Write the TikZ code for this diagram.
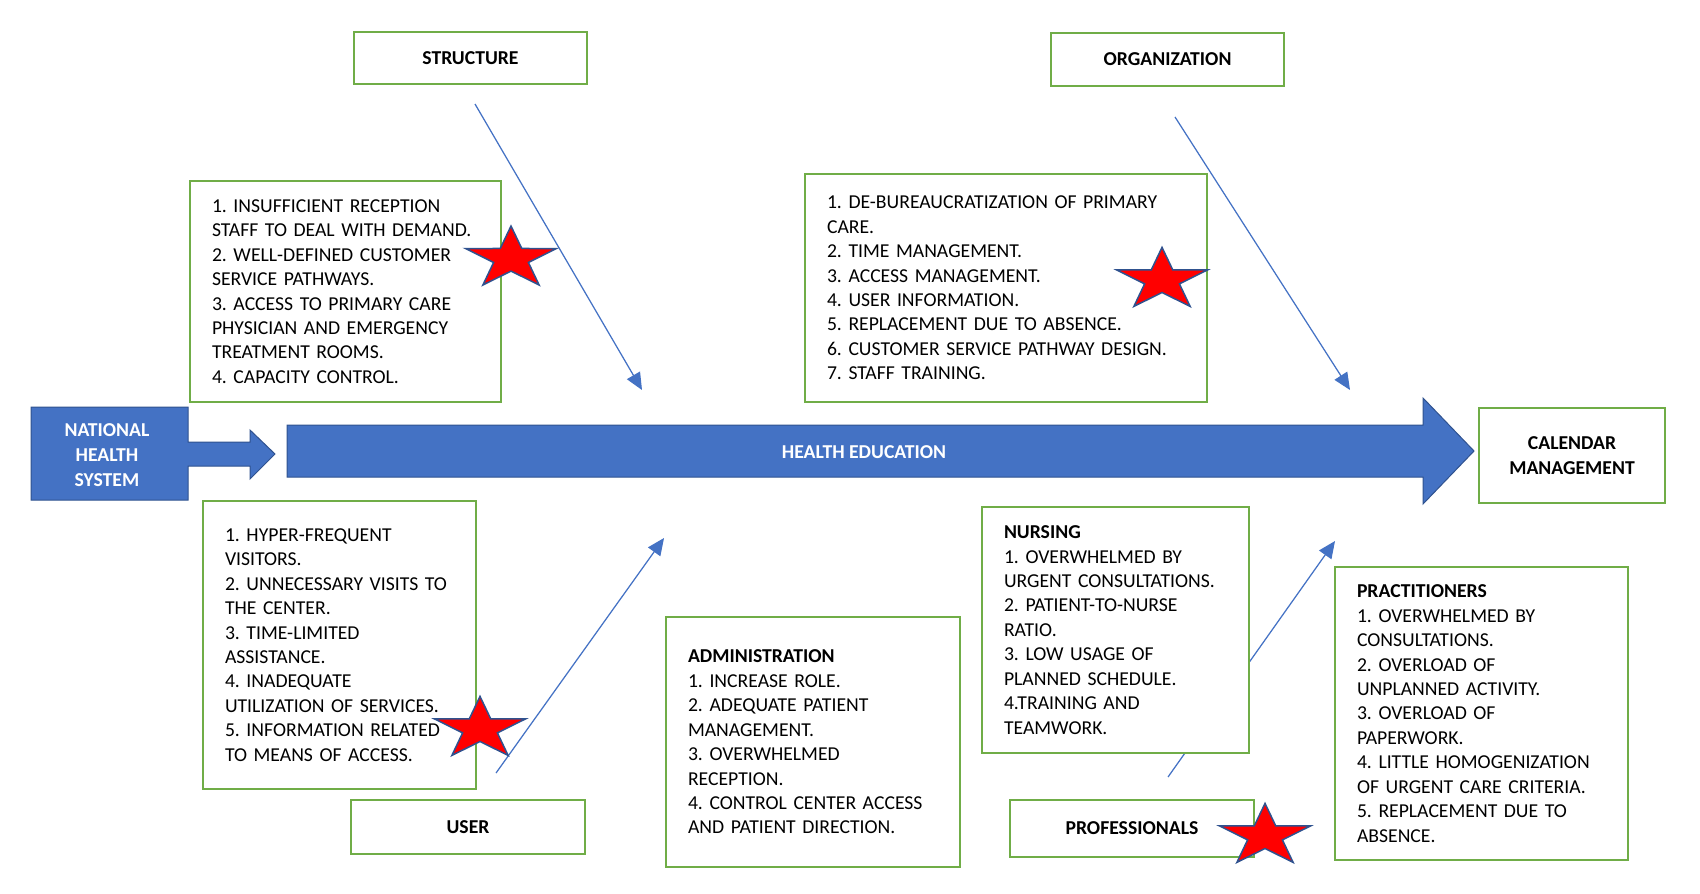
\documentclass[tikz,border=0pt]{standalone}
\usepackage{fontspec}
\setmainfont{Carlito}
\frenchspacing
\usetikzlibrary{arrows.meta}
\definecolor{frame}{HTML}{70AD47}
\definecolor{office}{HTML}{4472C4}
\definecolor{officedark}{HTML}{2F528F}
\tikzset{
	catbox/.style={draw=frame, line width=0.4mm, fill=white, inner sep=0pt, font=\fontsize{11.2}{13.9}\selectfont\bfseries},
	listbox/.style={draw=frame, line width=0.4mm, fill=white, inner xsep=4.4mm, inner ysep=0pt, align=left, font=\fontsize{11.2}{13.9}\selectfont},
	bone/.style={draw=office, line width=0.25mm, -{Triangle[length=3.4mm, width=3mm]}},
	bluebody/.style={fill=office, draw=officedark, line width=0.2mm},
}
\def\redstar(#1,#2){\draw[fill=red, draw=officedark, line width=0.3mm] (#1,#2-32.6) \foreach \k in {1,...,9}{ -- ({#1+(isodd(\k) ? 18.3 : 47.8)*cos(90+36*\k)},{#2-(isodd(\k) ? 12.5 : 32.6)*sin(90+36*\k)}) } -- cycle;}

\begin{document}
\begin{tikzpicture}[x=0.2mm, y=-0.2mm]
	%%%%% START %%%%%
	\useasboundingbox (0,0) rectangle (1700,893);
	
	% spine
	\draw[bluebody] (31,407) -- (188,407) -- (188,442) -- (250,442) -- (250,430) -- (275,454) -- (250,479) -- (250,466) -- (188,466) -- (188,500) -- (31,500) -- cycle;
	\node[text=white, align=center, font=\fontsize{11.2}{14.2}\selectfont\bfseries] (nhs) at (107,455) {NATIONAL\\HEALTH\\SYSTEM};
	\draw[bluebody] (287,425) -- (1423,425) -- (1423,398) -- (1474,451) -- (1423,504) -- (1423,477) -- (287,477) -- cycle;
	\node[text=white, font=\fontsize{11.2}{13.9}\selectfont\bfseries] (edu) at (864,452) {HEALTH EDUCATION};
	\node[catbox, minimum width=37.2mm, minimum height=19mm, align=center] (calendar) at (1572,455.5) {CALENDAR\\MANAGEMENT};
	
	% bones
	\coordinate (strtail) at (475,104);
	\coordinate (strhead) at (642,390);
	\coordinate (orgtail) at (1175,117);
	\coordinate (orghead) at (1350,390);
	\coordinate (usrtail) at (496,773);
	\coordinate (usrhead) at (664,538);
	\coordinate (protail) at (1168,777);
	\coordinate (prohead) at (1335,541);
	\draw[bone] (strtail) -- (strhead);
	\draw[bone] (orgtail) -- (orghead);
	\draw[bone] (usrtail) -- (usrhead);
	\draw[bone] (protail) -- (prohead);
	
	% categories
	\node[catbox, minimum width=46.6mm, minimum height=10.4mm] (structure) at (470.5,58) {STRUCTURE};
	\node[catbox, minimum width=46.6mm, minimum height=10.6mm] (organization) at (1167.5,59.5) {ORGANIZATION};
	\node[catbox, minimum width=46.8mm, minimum height=10.8mm] (user) at (468,827) {USER};
	\node[catbox, minimum width=48.8mm, minimum height=11.4mm] (professionals) at (1132,828.5) {PROFESSIONALS};
	
	% causes
	\node[listbox, text width=53.4mm, minimum height=44.2mm] (strlist) at (345.5,291.5) {1. INSUFFICIENT RECEPTION\\STAFF TO DEAL WITH DEMAND.\\2. WELL-DEFINED CUSTOMER\\SERVICE PATHWAYS.\\3. ACCESS TO PRIMARY CARE\\PHYSICIAN AND EMERGENCY\\TREATMENT ROOMS.\\4. CAPACITY CONTROL.};
	\node[listbox, text width=71.6mm, minimum height=45.6mm] (orglist) at (1006,288) {1. DE-BUREAUCRATIZATION OF PRIMARY\\CARE.\\2. TIME MANAGEMENT.\\3. ACCESS MANAGEMENT.\\4. USER INFORMATION.\\5. REPLACEMENT DUE TO ABSENCE.\\6. CUSTOMER SERVICE PATHWAY DESIGN.\\7. STAFF TRAINING.};
	\node[listbox, text width=45.8mm, minimum height=57.6mm] (usrlist) at (339.5,645) {1. HYPER-FREQUENT\\VISITORS.\\2. UNNECESSARY VISITS TO\\THE CENTER.\\3. TIME-LIMITED\\ASSISTANCE.\\4. INADEQUATE\\UTILIZATION OF SERVICES.\\5. INFORMATION RELATED\\TO MEANS OF ACCESS.};
	\node[listbox, text width=50mm, minimum height=50mm] (admin) at (813,742) {\textbf{ADMINISTRATION}\\1. INCREASE ROLE.\\2. ADEQUATE PATIENT\\MANAGEMENT.\\3. OVERWHELMED\\RECEPTION.\\4. CONTROL CENTER ACCESS\\AND PATIENT DIRECTION.};
	\node[listbox, text width=44.6mm, minimum height=49.2mm] (nursing) at (1115.5,630) {\textbf{NURSING}\\1. OVERWHELMED BY\\URGENT CONSULTATIONS.\\2. PATIENT-TO-NURSE\\RATIO.\\3. LOW USAGE OF\\PLANNED SCHEDULE.\\4.TRAINING AND\\TEAMWORK.};
	\node[listbox, text width=49.8mm, minimum height=58.6mm] (practitioners) at (1481.5,713.5) {\textbf{PRACTITIONERS}\\1. OVERWHELMED BY\\CONSULTATIONS.\\2. OVERLOAD OF\\UNPLANNED ACTIVITY.\\3. OVERLOAD OF\\PAPERWORK.\\4. LITTLE HOMOGENIZATION\\OF URGENT CARE CRITERIA.\\5. REPLACEMENT DUE TO\\ABSENCE.};
	
	% stars
	\redstar(511,258.6)
	\redstar(1162,280)
	\redstar(480,729)
	\redstar(1265,836)
	
	%%%%% END %%%%%
\end{tikzpicture}
\end{document}
